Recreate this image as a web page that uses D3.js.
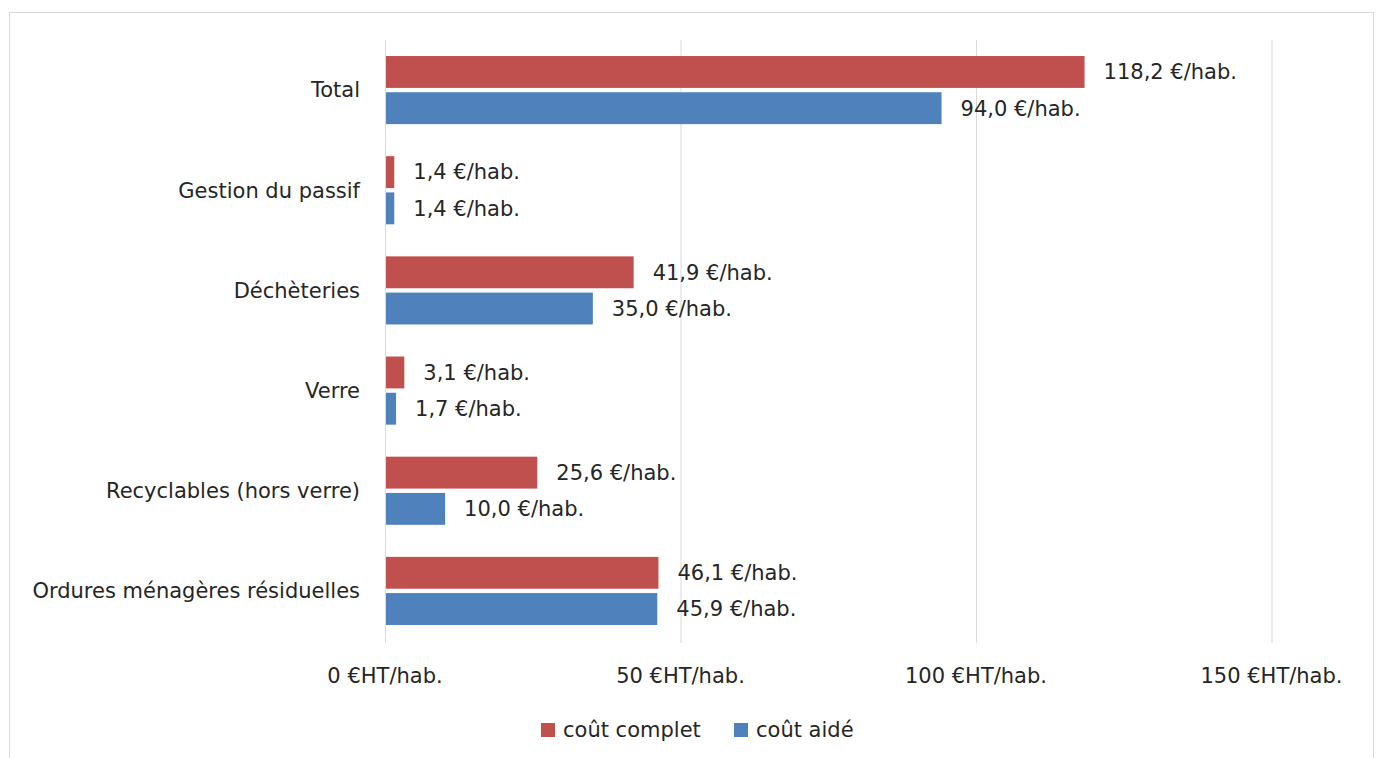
<!DOCTYPE html>
<html><head><meta charset="utf-8">
<script src="https://cdn.jsdelivr.net/npm/d3@7"></script>
<style>body{margin:0;background:#fff;} text{font-family:"DejaVu Sans",Verdana,sans-serif;fill:#262626;}</style>
</head><body>
<svg id="c" width="1378" height="758"></svg>
<script>
const categories = ["Total","Gestion du passif","Déchèteries","Verre","Recyclables (hors verre)","Ordures ménagères résiduelles"];
const coutComplet = [118.2, 1.4, 41.9, 3.1, 25.6, 46.1];
const coutAide = [94.0, 1.4, 35.0, 1.7, 10.0, 45.9];
const seriesNames = ["coût complet","coût aidé"];
const seriesColors = ["#C0504D","#4F81BD"];
const xTicks = [0,50,100,150];

const svg = d3.select("#c");
svg.append("rect").attr("x",9.5).attr("y",12.5).attr("width",1364).attr("height",760)
  .attr("fill","#fff").attr("stroke","#D9D9D9");

const x = d3.scaleLinear().domain([0,150]).range([385,1271.5]);
const y = d3.scaleBand().domain(categories).range([40,641]).paddingInner(0.32).paddingOuter(0.16);
const sub = d3.scaleBand().domain([0,1]).range([0,y.bandwidth()]).paddingInner(0.12);

// gridlines
svg.append("g").selectAll("line").data(xTicks).join("line")
  .attr("x1",d=>x(d)+0.5).attr("x2",d=>x(d)+0.5).attr("y1",40).attr("y2",643)
  .attr("stroke","#D9D9D9").attr("stroke-width",1);

const fs = 21;
const fmt = v => v.toFixed(1).replace(".",",") + " €/hab.";
const data = [];
categories.forEach((c,i)=>{
  data.push({c, s:0, v:coutComplet[i]});
  data.push({c, s:1, v:coutAide[i]});
});
svg.append("g").selectAll("rect").data(data).join("rect")
  .attr("x",x(0)+1).attr("y",d=>y(d.c)+sub(d.s))
  .attr("width",d=>x(d.v)-x(0)).attr("height",sub.bandwidth())
  .attr("fill",d=>seriesColors[d.s]);
svg.append("g").selectAll("text").data(data).join("text")
  .attr("x",d=>x(d.v)+20).attr("y",d=>y(d.c)+sub(d.s)+sub.bandwidth()/2)
  .attr("dy","0.35em").attr("font-size",fs).text(d=>fmt(d.v));

// category labels
svg.append("g").selectAll("text").data(categories).join("text")
  .attr("x",360).attr("y",d=>y(d)+y.bandwidth()/2).attr("dy","0.35em")
  .attr("text-anchor","end").attr("font-size",fs).text(d=>d);

// x tick labels
svg.append("g").selectAll("text").data(xTicks).join("text")
  .attr("x",d=>x(d)).attr("y",676).attr("dy","0.35em")
  .attr("text-anchor","middle").attr("font-size",fs).text(d=>d+" €HT/hab.");

// legend
const lg = svg.append("g");
const lx = [541, 734];
seriesNames.forEach((n,i)=>{
  lg.append("rect").attr("x",lx[i]).attr("y",723).attr("width",14).attr("height",14).attr("fill",seriesColors[i]);
  lg.append("text").attr("x",lx[i]+22).attr("y",730).attr("dy","0.35em").attr("font-size",fs).text(n);
});
</script>
</body></html>
